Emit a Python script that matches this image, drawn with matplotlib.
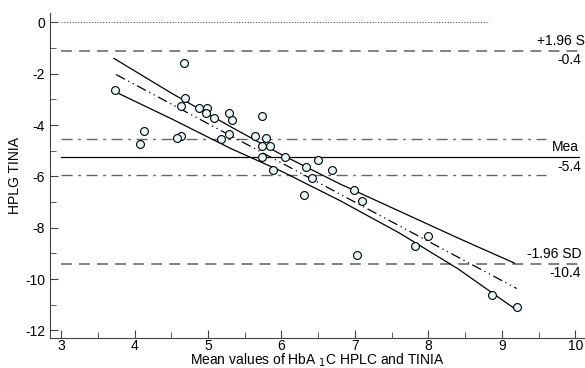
import numpy as np
import matplotlib
matplotlib.use("Agg")
import matplotlib.pyplot as plt
from matplotlib.ticker import MultipleLocator

plt.rcParams['font.family'] = ['Liberation Sans', 'DejaVu Sans']
plt.rcParams['axes.unicode_minus'] = False

# Scatter points (mean of methods, difference)
mean_vals = [3.74, 4.68, 4.69, 4.63, 4.88, 4.99, 4.97, 5.08, 5.28, 5.33,
             5.74, 4.13, 4.08, 4.63, 4.58, 5.18, 5.29, 5.64, 5.79, 5.74,
             5.85, 5.74, 6.05, 5.89, 6.49, 6.34, 6.69, 6.42, 6.30, 6.99,
             7.09, 7.03, 7.81, 7.99, 8.86, 9.21]
diff_vals = [-2.65, -1.56, -2.96, -3.27, -3.35, -3.35, -3.54, -3.74, -3.54, -3.81,
             -3.66, -4.24, -4.74, -4.43, -4.50, -4.55, -4.35, -4.44, -4.51, -4.82,
             -4.82, -5.24, -5.24, -5.75, -5.36, -5.63, -5.75, -6.06, -6.72, -6.53,
             -6.96, -9.05, -8.70, -8.31, -10.63, -11.10]

# Reference lines
upper_loa = -1.1
mean_diff = -5.25
lower_loa = -9.4
mean_ci = [-4.55, -5.95]

# Regression line and its confidence band
reg_x = [3.75, 9.2]
reg_y = [-2.03, -10.37]
ci_x = [3.72, 4.5, 5.3, 6.0, 6.8, 7.6, 8.4, 9.17]
ci_up = [-1.40, -2.75, -4.05, -5.15, -6.30, -7.35, -8.40, -9.38]
ci_lo = [-2.68, -3.75, -4.90, -5.80, -6.95, -8.20, -9.60, -11.15]

fig = plt.figure(figsize=(5.85, 3.68), dpi=100)
ax = fig.add_axes([50/585, 30/368, 535/585, 325/368])

ax.plot([3, 8.83], [0, 0], color='#555555', lw=0.8, ls=(0, (1, 1.5)))
ax.plot([3, 10.05], [upper_loa, upper_loa], color='#777777', lw=1.3, ls=(0, (6, 4)))
ax.plot([3, 10.05], [lower_loa, lower_loa], color='#777777', lw=1.3, ls=(0, (6, 4)))
ax.plot([3, 10.05], [mean_diff, mean_diff], color='black', lw=0.9)
for v in mean_ci:
    ax.plot([3, 9.6], [v, v], color='#666666', lw=1.0, ls=(0, (8, 4, 2, 4)))

ax.plot(ci_x, ci_up, color='black', lw=0.9)
ax.plot(ci_x, ci_lo, color='black', lw=0.9)
ax.plot(reg_x, reg_y, color='black', lw=0.9, ls=(0, (8, 3, 1, 3, 1, 3)))

ax.scatter(mean_vals, diff_vals, s=32, facecolor='#e6f7f7', edgecolor='black',
           linewidth=0.8, zorder=5)

# right-side labels (shown truncated in the original)
ax.text(9.48, upper_loa + 0.12, '+1.96 S', fontsize=10, ha='left', va='bottom')
ax.text(10.08, upper_loa - 0.1, '-0.4', fontsize=10, ha='right', va='top')
ax.text(9.68, mean_diff + 0.12, 'Mea', fontsize=10, ha='left', va='bottom')
ax.text(10.08, mean_diff - 0.1, '-5.4', fontsize=10, ha='right', va='top')
ax.text(10.08, lower_loa + 0.12, '-1.96 SD', fontsize=10, ha='right', va='bottom')
ax.text(10.08, lower_loa - 0.1, '-10.4', fontsize=10, ha='right', va='top')

ax.set_xlim(2.85, 10.13)
ax.set_ylim(-12.3, 0.37)
ax.set_xticks(range(3, 11))
ax.set_yticks(range(-12, 1, 2))
ax.xaxis.set_minor_locator(MultipleLocator(0.5))
ax.yaxis.set_minor_locator(MultipleLocator(1))
ax.tick_params(which='both', direction='in', labelsize=10, color='#444444')
ax.tick_params(which='major', length=6)
ax.tick_params(which='minor', length=4)
ax.tick_params(axis='x', pad=1)
for s in ['top', 'right']:
    ax.spines[s].set_visible(False)
for s in ['left', 'bottom']:
    ax.spines[s].set_color('#444444')

ax.set_xlabel('Mean values of HbA $_1$C HPLC and TINIA', fontsize=10, labelpad=-1)
ax.set_ylabel('HPLG TINIA', fontsize=10, labelpad=2)

fig.savefig('out.png', dpi=100)
